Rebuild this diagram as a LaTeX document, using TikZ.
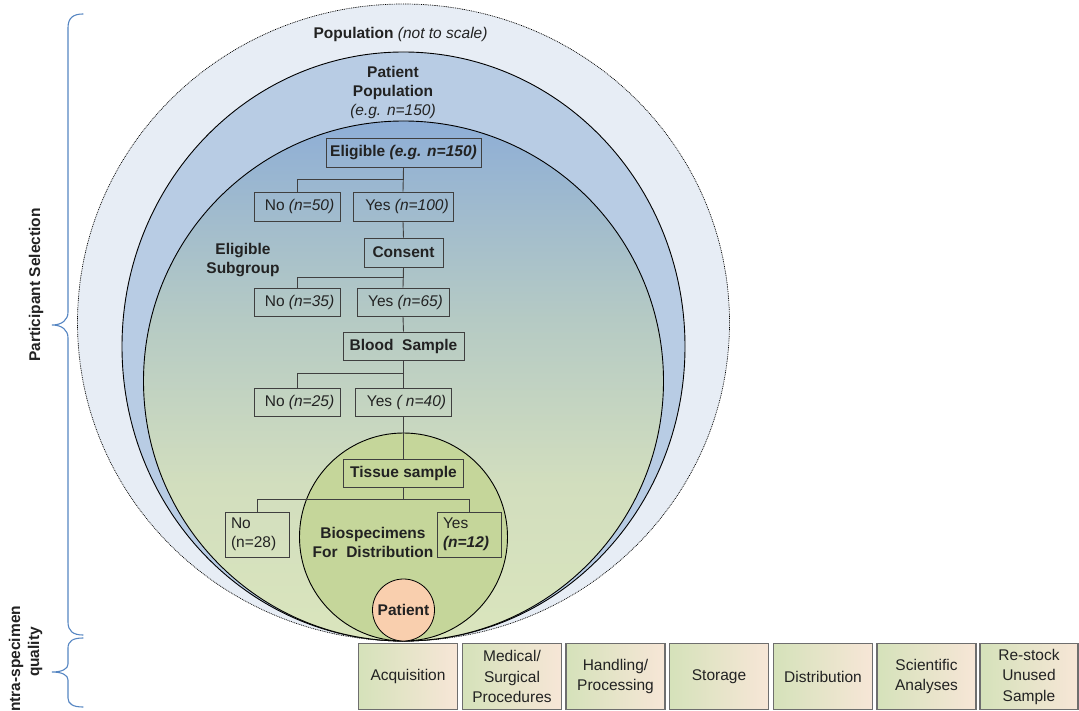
\documentclass[tikz,border=0pt]{standalone}
\usepackage{fontspec}
\setmainfont{Liberation Sans}
\usetikzlibrary{calc}

\definecolor{inktext}{HTML}{222222}
\definecolor{popfill}{HTML}{E7EDF5}
\definecolor{patpopfill}{HTML}{B8CCE4}
\definecolor{eligtop}{HTML}{8EAED6}
\definecolor{eligmid}{HTML}{B5CAC4}
\definecolor{eliglow}{HTML}{D2DEBE}
\definecolor{eligbot}{HTML}{DAE5BD}
\definecolor{tissuefill}{HTML}{C5D69A}
\definecolor{patientfill}{HTML}{F9CFAE}
\definecolor{boxline}{HTML}{3F3F3F}
\definecolor{stageline}{HTML}{6E6E6E}
\definecolor{stageL}{HTML}{D5E2BA}
\definecolor{stageR}{HTML}{F7E6D7}
\definecolor{bracecol}{HTML}{5585C2}

% vertical blend of the eligible circle: blue at the top, pale green below
\pgfdeclareverticalshading{eligshade}{100bp}{color(0bp)=(eligbot); color(25bp)=(eligbot); color(40bp)=(eliglow); color(56bp)=(eligmid); color(75bp)=(eligtop); color(100bp)=(eligtop)}

\newcommand\dfont{\fontsize{15.5}{19}\selectfont}
\newcommand\sfont{\fontsize{15.5}{20.5}\selectfont}

\begin{document}
\begin{tikzpicture}[x=1pt,y=-1pt,
  every node/.style={text=inktext},
  ring/.style={draw=black, line width=0.9pt},
  flowbox/.style={draw=boxline, line width=0.9pt, inner sep=0pt, font=\dfont},
  link/.style={draw=boxline, line width=0.9pt},
  label/.style={font=\dfont\bfseries, align=center, inner sep=0pt},
  stagebox/.style={draw=stageline, line width=1.3pt, left color=stageL, right color=stageR,
    minimum width=99pt, minimum height=66pt, inner sep=0pt, align=center, font=\sfont},
  bracket/.style={draw=bracecol, line width=1.1pt, line cap=round}
]
\useasboundingbox (0,0) rectangle (1079,711);

% nested populations
\draw[draw=black, line width=0.7pt, dash pattern=on 0.9pt off 0.9pt, fill=popfill]
  (403.5,322.5) ellipse [x radius=326pt, y radius=318.5pt];
\draw[ring, fill=patpopfill] (403.5,346.5) ellipse [x radius=281.5pt, y radius=294.5pt];
\draw[ring, shading=eligshade] (403.5,381) circle [radius=260pt];
\draw[ring, fill=tissuefill] (403.5,537) circle [radius=104pt];

% headings inside the rings
\node[label] (poptitle) at (400.5,34) {Population \mdseries\itshape(not to scale)};
\node[label] (patpop) at (393,92) {Patient\\Population\\\mdseries\itshape(e.g. n=150)};
\node[label] (subgroup) at (243,260) {Eligible\\Subgroup};
\node[label] (biospec) at (373,542) {Biospecimens\\For\ \ Distribution};
\node[circle, draw=black, line width=0.8pt, fill=patientfill, minimum size=62pt, inner sep=0pt,
  font=\dfont\bfseries] (patient) at (403.5,610) {Patient};

% selection tree
\node[flowbox, minimum width=155pt, minimum height=29pt, font=\dfont\bfseries]
  (elig) at (403.5,153) {Eligible \textit{(e.g. n=150)}};
\node[flowbox, minimum width=86pt, minimum height=29pt] (no1) at (297,206.5) {\hspace*{5pt}No \textit{(n=50)}};
\node[flowbox, minimum width=100pt, minimum height=29pt] (yes1) at (403,206.5) {\hspace*{8pt}Yes \textit{(n=100)}};
\node[flowbox, minimum width=79pt, minimum height=29pt, font=\dfont\bfseries] (consent) at (403.5,252.5) {Consent};
\node[flowbox, minimum width=86pt, minimum height=28pt] (no2) at (297,302) {\hspace*{5pt}No \textit{(n=35)}};
\node[flowbox, minimum width=92pt, minimum height=28pt] (yes2) at (403,302) {\hspace*{5pt}Yes \textit{(n=65)}};
\node[flowbox, minimum width=121pt, minimum height=28pt, font=\dfont\bfseries] (blood) at (403.5,346) {Blood\ \ Sample};
\node[flowbox, minimum width=86pt, minimum height=28pt] (no3) at (297,402) {\hspace*{5pt}No \textit{(n=25)}};
\node[flowbox, minimum width=96pt, minimum height=28pt] (yes3) at (403.5,402) {\hspace*{6pt}Yes \textit{( n=40)}};
\node[flowbox, minimum width=120pt, minimum height=28pt, font=\dfont\bfseries] (tissue) at (403.5,473) {Tissue sample};
\node[flowbox, text width=52pt, minimum height=45pt, inner xsep=6pt, align=left] (no4) at (257,534.5) {No\\(n=28)};
\node[flowbox, text width=52pt, minimum height=45pt, inner xsep=6pt, align=left] (yes4) at (469,534.5) {Yes\\\textbf{\textit{(n=12)}}};

\draw[link] (elig.south) -- (yes1.north);
\draw[link] (elig.south) -- ++(0,12) coordinate (s1) -| (no1.north);
\draw[link] (yes1.south) -- (consent.north);
\draw[link] (consent.south) -- (yes2.north);
\draw[link] (consent.south) -- ++(0,10) coordinate (s2) -| (no2.north);
\draw[link] (yes2.south) -- (blood.north);
\draw[link] (blood.south) -- (yes3.north);
\draw[link] (blood.south) -- ++(0,13) coordinate (s3) -| (no3.north);
\draw[link] (yes3.south) -- (tissue.north);
\draw[link] (tissue.south) -- ++(0,12) coordinate (s4);
\draw[link] (no4.north) |- (s4) -| (yes4.north);

% specimen handling stages
\node[stagebox] (acq) at (408,676.5) {Acquisition};
\node[stagebox] (med) at (512,676.5) {Medical/\\Surgical\\Procedures};
\node[stagebox] (hand) at (615.5,676.5) {Handling/\\Processing};
\node[stagebox] (store) at (719,676.5) {Storage};
\node[stagebox] (dist) at (823,676.5) {Distribution};
\node[stagebox] (sci) at (926.5,676.5) {Scientific\\Analyses};
\node[stagebox, minimum width=98pt] (restock) at (1029,676.5) {Re-stock\\Unused\\Sample};

% side brackets and their captions
\draw[bracket] (83,14) .. controls (73,14) and (68,18) .. (68,28) -- (68,312)
  .. controls (68,320) and (62,325) .. (52,325)
  .. controls (62,325) and (68,330) .. (68,338) -- (68,622)
  .. controls (68,631) and (73,635) .. (83,635);
\draw[bracket] (83,638) .. controls (73,638) and (68,641) .. (68,648) -- (68,664)
  .. controls (68,669) and (62,672) .. (52,672)
  .. controls (62,672) and (68,675) .. (68,680) -- (68,698)
  .. controls (68,704) and (73,707) .. (83,707);
\node[label, rotate=90] (partsel) at (36,285) {Participant Selection};
\node[label, rotate=90, anchor=west] (intra) at (16,712) {ntra-specimen};
\node[label, rotate=90] (quality) at (35,652) {quality};
\end{tikzpicture}
\end{document}
